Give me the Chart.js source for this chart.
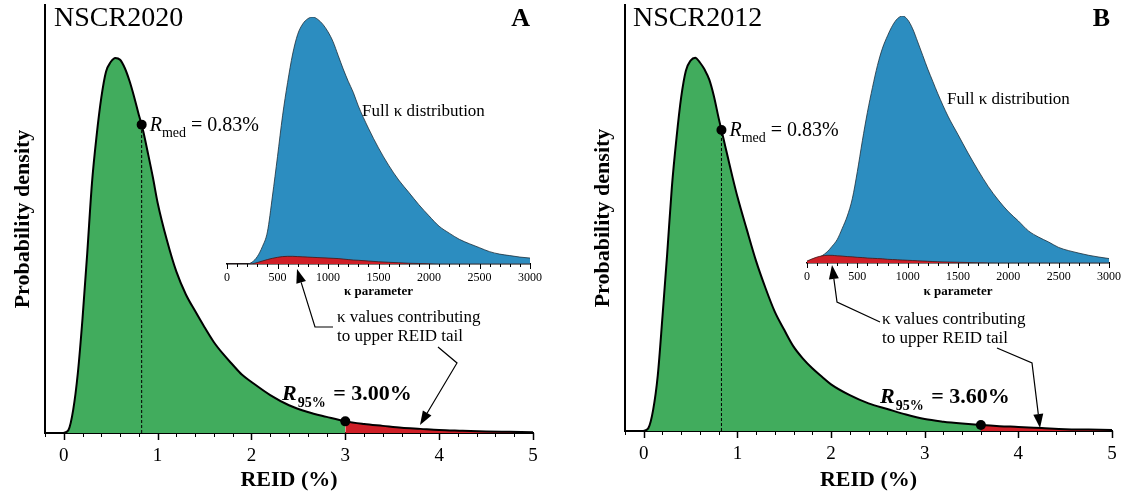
<!DOCTYPE html>
<html>
<head>
<meta charset="utf-8">
<script src="https://cdn.jsdelivr.net/npm/chart.js@4.4.1/dist/chart.umd.min.js"></script>
<style>
  html, body { margin: 0; padding: 0; background: #fff; }
  #lienzo { position: relative; width: 1124px; height: 494px; overflow: hidden; }
  canvas { position: absolute; top: 0; }
</style>
</head>
<body>
<div id="lienzo">
  <canvas id="mainA" width="562" height="494" style="left:0px"></canvas>
  <canvas id="mainB" width="544" height="494" style="left:580px"></canvas>
  <canvas id="insetA" width="345" height="300" style="left:200px"></canvas>
  <canvas id="insetB" width="344" height="300" style="left:780px"></canvas>
</div>
<script>
// ---- datos ----
const reidX = [0, 0.05, 0.10, 0.15, 0.20, 0.25, 0.30, 0.35, 0.40, 0.45, 0.50, 0.55, 0.60, 0.65, 0.70, 0.75, 0.80, 0.83, 0.85, 0.90, 0.95,
  1.0, 1.1, 1.2, 1.3, 1.4, 1.5, 1.6, 1.7, 1.8, 1.9, 2.0, 2.2, 2.4, 2.6, 2.8, 3.0, 3.2, 3.4, 3.6, 3.8, 4.0, 4.25, 4.5, 4.75, 5.0];
const densidad2020 = [0, 0.008, 0.061, 0.160, 0.306, 0.479, 0.665, 0.793, 0.894, 0.963, 0.989, 1.000, 0.995, 0.973, 0.939, 0.896, 0.848, 0.822, 0.801, 0.742, 0.681,
  0.614, 0.513, 0.430, 0.370, 0.325, 0.282, 0.242, 0.210, 0.182, 0.155, 0.136, 0.101, 0.074, 0.056, 0.043, 0.031, 0.024, 0.019, 0.014, 0.011, 0.008, 0.006, 0.004, 0.003, 0.002];
const densidad2012 = [0, 0.008, 0.056, 0.149, 0.306, 0.473, 0.652, 0.785, 0.894, 0.965, 0.992, 1.000, 0.987, 0.968, 0.941, 0.896, 0.838, 0.806, 0.785, 0.731, 0.678,
  0.628, 0.540, 0.455, 0.383, 0.319, 0.271, 0.226, 0.194, 0.168, 0.146, 0.125, 0.096, 0.074, 0.059, 0.044, 0.032, 0.025, 0.020, 0.016, 0.013, 0.011, 0.008, 0.005, 0.004, 0.003];

const kappaX = [0, 100, 200, 250, 300, 350, 400, 450, 500, 550, 600, 650, 700, 750, 800, 850, 900, 950, 1000, 1050, 1100, 1150, 1200, 1250, 1300,
  1400, 1500, 1600, 1700, 1800, 1900, 2000, 2100, 2200, 2300, 2400, 2500, 2600, 2700, 2800, 2900, 3000];
const kappaTotal2020 = [0, 0, 0, 0.008, 0.030, 0.070, 0.130, 0.275, 0.435, 0.600, 0.735, 0.850, 0.930, 0.972, 0.993, 1.000, 0.990, 0.970, 0.940, 0.900, 0.845, 0.790, 0.740, 0.695, 0.640,
  0.550, 0.470, 0.400, 0.340, 0.290, 0.240, 0.195, 0.153, 0.125, 0.100, 0.082, 0.066, 0.050, 0.040, 0.034, 0.028, 0.024];
const kappaCola2020 = [0, 0, 0, 0.001, 0.006, 0.012, 0.018, 0.023, 0.027, 0.030, 0.031, 0.031, 0.030, 0.029, 0.028, 0.027, 0.026, 0.025, 0.024, 0.023, 0.022, 0.020, 0.018, 0.016, 0.015,
  0.012, 0.009, 0.007, 0.005, 0.003, 0.002, 0.001, 0, 0, 0, 0, 0, 0, 0, 0, 0, 0];
const kappaTotal2012 = [0.004, 0.018, 0.045, 0.068, 0.095, 0.140, 0.190, 0.260, 0.370, 0.495, 0.610, 0.710, 0.800, 0.870, 0.920, 0.962, 0.990, 1.000, 0.985, 0.948, 0.895, 0.840, 0.785, 0.735, 0.685,
  0.595, 0.520, 0.445, 0.375, 0.310, 0.255, 0.208, 0.170, 0.130, 0.105, 0.085, 0.063, 0.050, 0.040, 0.031, 0.024, 0.018];
const kappaCola2012 = [0.008, 0.024, 0.031, 0.031, 0.029, 0.028, 0.026, 0.025, 0.023, 0.022, 0.020, 0.019, 0.018, 0.017, 0.015, 0.014, 0.013, 0.012, 0.011, 0.010, 0.009, 0.008, 0.007, 0.006, 0.005,
  0.004, 0.003, 0.002, 0.001, 0.0005, 0, 0, 0, 0, 0, 0, 0, 0, 0, 0, 0, 0];

const reidTicks = [0, 1, 2, 3, 4, 5];
const kappaTicks = [0, 500, 1000, 1500, 2000, 2500, 3000];

const rMed = 0.83;
const r95_2020 = 3.00;
const r95_2012 = 3.60;

// ---- estilos ----
const SERIF = "'Liberation Serif', 'Times New Roman', Times, serif";
const VERDE = '#41ac5d';
const ROJO = '#cf1f27';
const AZUL = '#2c8dc0';
Chart.defaults.font.family = SERIF;
Chart.defaults.color = '#000';

function texto(ctx, runs, x, y) {
    // dibuja trozos de texto seguidos (para subíndices)
    let cx = x;
    runs.forEach(r => {
        ctx.font = r.font;
        ctx.fillText(r.t, cx, y + (r.dy || 0));
        cx += ctx.measureText(r.t).width + (r.gap || 0);
    });
}

function flecha(ctx, pts) {
    const n = pts.length;
    const [tx, ty] = pts[n - 1];
    const [px, py] = pts[n - 2];
    const ang = Math.atan2(ty - py, tx - px);
    const largo = 14, ancho = 5;
    const bx = tx - largo * Math.cos(ang), by = ty - largo * Math.sin(ang);
    ctx.beginPath();
    ctx.moveTo(pts[0][0], pts[0][1]);
    for (let i = 1; i < n - 1; i++) ctx.lineTo(pts[i][0], pts[i][1]);
    ctx.lineTo(bx, by);
    ctx.lineWidth = 1.2;
    ctx.strokeStyle = '#000';
    ctx.stroke();
    ctx.beginPath();
    ctx.moveTo(tx, ty);
    ctx.lineTo(bx + ancho * Math.sin(ang), by - ancho * Math.cos(ang));
    ctx.lineTo(bx - ancho * Math.sin(ang), by + ancho * Math.cos(ang));
    ctx.closePath();
    ctx.fillStyle = '#000';
    ctx.fill();
}

function pluginPanel(p) {
    return {
        id: 'anotaciones',
        afterDraw(chart) {
            const ctx = chart.ctx;
            const xs = chart.scales.x, ys = chart.scales.y;
            const base = chart.chartArea.bottom;
            ctx.save();
            // marcas del eje x cada 0.2
            ctx.strokeStyle = '#000';
            for (let i = 0; i <= 26; i++) {
                const v = -0.2 + i * 0.2;
                const mayor = Math.abs(v - Math.round(v)) < 1e-6;
                const px = Math.round(xs.getPixelForValue(v)) + 0.5;
                ctx.lineWidth = mayor ? 1.5 : 1;
                ctx.beginPath();
                ctx.moveTo(px, base);
                ctx.lineTo(px, base + (mayor ? 7 : 4));
                ctx.stroke();
            }
            ctx.fillStyle = '#000';
            ctx.textBaseline = 'alphabetic';
            ctx.textAlign = 'left';
            ctx.font = '28px ' + SERIF;
            ctx.fillText(p.nombre, p.tituloX, 26);
            ctx.textAlign = 'right';
            ctx.font = 'bold 26px ' + SERIF;
            ctx.fillText(p.letra, p.letraX, 26);
            ctx.textAlign = 'left';

            // etiqueta de la mediana junto al punto
            const mx = xs.getPixelForValue(rMed);
            const my = ys.getPixelForValue(p.densidad[reidX.indexOf(rMed)]);
            texto(ctx, [
                { t: 'R', font: 'italic 20px ' + SERIF },
                { t: 'med', font: '14px ' + SERIF, dy: 6 },
                { t: ' = ' + rMed.toFixed(2) + '%', font: '20px ' + SERIF }
            ], mx + 8, my + 6);

            texto(ctx, [
                { t: 'R', font: 'bold italic 22px ' + SERIF, gap: 1 },
                { t: '95%', font: 'bold 14px ' + SERIF, dy: 7, gap: 2 },
                { t: ' = ' + p.r95.toFixed(2) + '%', font: 'bold 22px ' + SERIF }
            ], p.r95X, p.r95Y);

            ctx.textBaseline = 'middle';
            ctx.font = '17px ' + SERIF;
            ctx.fillText('Full κ distribution', p.fullX, p.fullY);
            ctx.fillText('κ values contributing', p.colaX, p.colaY);
            ctx.fillText('to upper REID tail', p.colaX, p.colaY + 18.5);

            flecha(ctx, p.flecha1);
            flecha(ctx, p.flecha2);
            ctx.restore();
        }
    };
}

function crearPanel(p) {
    const curva = reidX.map((x, i) => ({ x, y: p.densidad[i] }));
    const verde = curva.filter(d => d.x <= p.r95 + 1e-9);
    const roja = curva.filter(d => d.x >= p.r95 - 1e-9);
    const yMed = p.densidad[reidX.indexOf(rMed)];
    const y95 = p.densidad[reidX.indexOf(p.r95)];

    return new Chart(document.getElementById(p.canvas), {
        type: 'line',
        data: {
            datasets: [
                { data: [{ x: rMed, y: yMed }, { x: p.r95, y: y95 }], showLine: false, pointRadius: 5, pointBackgroundColor: '#000', pointBorderWidth: 0 },
                { data: [{ x: rMed, y: 0 }, { x: rMed, y: yMed }], borderColor: '#000', borderWidth: 1, borderDash: [3, 2], pointRadius: 0 },
                { data: curva, borderColor: '#000', borderWidth: 2, pointRadius: 0, fill: false, cubicInterpolationMode: 'monotone' },
                { data: roja, borderWidth: 0, pointRadius: 0, fill: 'origin', backgroundColor: ROJO, cubicInterpolationMode: 'monotone' },
                { data: verde, borderWidth: 0, pointRadius: 0, fill: 'origin', backgroundColor: VERDE, cubicInterpolationMode: 'monotone' }
            ]
        },
        options: {
            responsive: false,
            animation: false,
            events: [],
            layout: { padding: { left: 0, right: p.derecha, top: p.arriba, bottom: 0 } },
            plugins: { legend: { display: false }, tooltip: { enabled: false } },
            scales: {
                x: {
                    type: 'linear', min: -0.2, max: 5,
                    afterBuildTicks: s => { s.ticks = reidTicks.map(v => ({ value: v })); },
                    afterFit: s => { s.height = 494 - p.base; },
                    // las marcas se dibujan aparte; tickLength sólo separa las etiquetas del eje
                    grid: { display: false, drawTicks: true, tickLength: 12 },
                    border: { display: true, color: '#000', width: 2 },
                    ticks: { color: '#000', font: { size: 19 }, padding: 0, maxRotation: 0, autoSkip: false },
                    title: { display: true, text: 'REID (%)', color: '#000', font: { size: 22, weight: 'bold', lineHeight: 1.2 }, padding: { top: 0, bottom: 0 } }
                },
                y: {
                    type: 'linear', min: 0, max: 1.141,
                    afterFit: s => { s.width = 45; },
                    grid: { display: false, drawTicks: false },
                    border: { display: true, color: '#000', width: 2 },
                    ticks: { display: false },
                    title: { display: true, text: 'Probability density', color: '#000', font: { size: 22, weight: 'bold', lineHeight: 1.2 }, padding: { top: 10, bottom: 0 } }
                }
            }
        },
        plugins: [pluginPanel(p)]
    });
}

const pluginMarcasKappa = {
    id: 'marcasKappa',
    afterDraw(chart) {
        const ctx = chart.ctx, xs = chart.scales.x, base = chart.chartArea.bottom;
        ctx.save();
        ctx.strokeStyle = '#000';
        for (let i = 0; i <= 30; i++) {
            const mayor = i % 5 === 0;
            const px = Math.round(xs.getPixelForValue(i * 100)) + 0.5;
            ctx.lineWidth = 1;
            ctx.beginPath();
            ctx.moveTo(px, base);
            ctx.lineTo(px, base + (mayor ? 5 : 3));
            ctx.stroke();
        }
        ctx.restore();
    }
};

function crearRecuadro(r) {
    const total = kappaX.map((x, i) => ({ x, y: r.total[i] }));
    const cola = kappaX.map((x, i) => ({ x, y: r.cola[i] }));
    return new Chart(document.getElementById(r.canvas), {
        type: 'line',
        data: {
            datasets: [
                { data: cola, borderColor: '#3a1a1a', borderWidth: 0.8, pointRadius: 0, fill: 'origin', backgroundColor: ROJO, cubicInterpolationMode: 'monotone' },
                { data: total, borderColor: '#1d2f3a', borderWidth: 0.8, pointRadius: 0, fill: 'origin', backgroundColor: AZUL, cubicInterpolationMode: 'monotone' }
            ]
        },
        options: {
            responsive: false,
            animation: false,
            events: [],
            layout: { padding: { left: r.izquierda, right: r.derecha, top: r.arriba, bottom: 0 } },
            plugins: { legend: { display: false }, tooltip: { enabled: false } },
            scales: {
                x: {
                    type: 'linear', min: 0, max: 3000,
                    afterBuildTicks: s => { s.ticks = kappaTicks.map(v => ({ value: v })); },
                    afterFit: s => { s.height = 300 - r.base; },
                    grid: { display: false, drawTicks: true, tickLength: 7 },
                    border: { display: true, color: '#000', width: 1.5 },
                    ticks: { color: '#000', font: { size: 12 }, padding: 0, maxRotation: 0, autoSkip: false, callback: v => String(v) },
                    title: { display: true, text: 'κ parameter', color: '#000', font: { size: 13, weight: 'bold', lineHeight: 1.2 }, padding: { top: 0, bottom: 1 } }
                },
                y: { display: false, min: 0, max: 1 }
            }
        },
        plugins: [pluginMarcasKappa]
    });
}

crearPanel({
    canvas: 'mainA', densidad: densidad2020, r95: r95_2020, nombre: 'NSCR2020', letra: 'A',
    derecha: 29, arriba: 4, base: 433, tituloX: 54, letraX: 530,
    r95X: 282, r95Y: 400, fullX: 362, fullY: 112, colaX: 337, colaY: 318,
    flecha1: [[333, 327], [315, 327], [297, 269]],
    flecha2: [[438, 347], [457, 363], [420, 425]]
});
crearPanel({
    canvas: 'mainB', densidad: densidad2012, r95: r95_2012, nombre: 'NSCR2012', letra: 'B',
    derecha: 12, arriba: 2, base: 431, tituloX: 53, letraX: 530,
    r95X: 300, r95Y: 403, fullX: 367, fullY: 100, colaX: 302, colaY: 320,
    flecha1: [[300, 322], [257, 302], [252, 265]],
    flecha2: [[417, 348], [452, 363], [460, 428]]
});
crearRecuadro({ canvas: 'insetA', total: kappaTotal2020, cola: kappaCola2020, izquierda: 27, derecha: 15, arriba: 17, base: 264 });
crearRecuadro({ canvas: 'insetB', total: kappaTotal2012, cola: kappaCola2012, izquierda: 27, derecha: 15, arriba: 16, base: 263 });
</script>
</body>
</html>
